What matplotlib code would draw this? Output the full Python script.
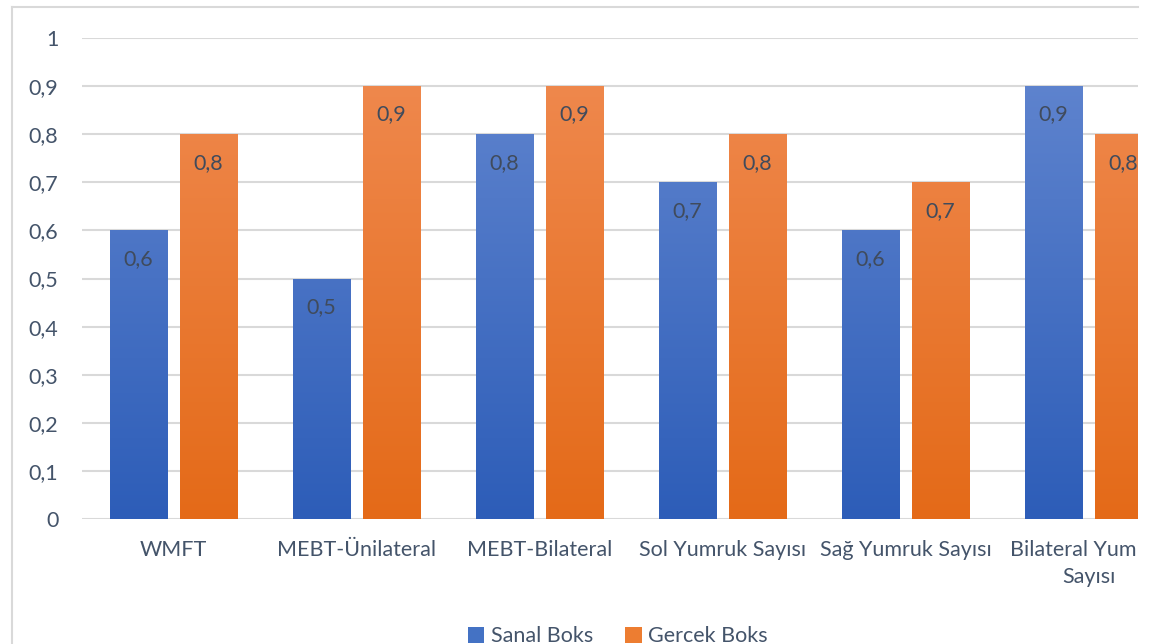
import numpy as np
import matplotlib
matplotlib.use("Agg")
import matplotlib.pyplot as plt
from matplotlib.patches import Rectangle, Patch
from matplotlib.lines import Line2D
from matplotlib.colors import LinearSegmentedColormap

categories = ["WMFT", "MEBT-Ünilateral", "MEBT-Bilateral", "Sol Yumruk Sayısı",
              "Sağ Yumruk Sayısı", "Bilateral Yumruk\nSayısı"]
sanal = [0.6, 0.5, 0.8, 0.7, 0.6, 0.9]
gercek = [0.8, 0.9, 0.9, 0.8, 0.7, 0.8]
series_names = ["Sanal Boks", "Gercek Boks"]
yticks = [0, 0.1, 0.2, 0.3, 0.4, 0.5, 0.6, 0.7, 0.8, 0.9, 1.0]

W, H = 1155, 644
plt.rcParams['font.family'] = ['Lato', 'DejaVu Sans']
text_col = '#44546A'
grid_col = '#D9D9D9'
fs = 15.5

fig = plt.figure(figsize=(W/100, H/100), dpi=100)
left_px, right_px, bot_px, top_px = 82, 1180, 519, 38
ax = fig.add_axes([left_px/W, (H-bot_px)/H, (right_px-left_px)/W, (bot_px-top_px)/H])

n = len(categories)
x = np.arange(n)
bw = 0.315
gap = 0.066
blue_cmap = LinearSegmentedColormap.from_list('b', ['#2D5DB8', '#6387D0'])
orange_cmap = LinearSegmentedColormap.from_list('o', ['#E46A18', '#F08B52'])

def grad_bars(xs, vals, cmap):
    bars = ax.bar(xs, vals, width=bw, color='none', edgecolor='none', zorder=2)
    for b in bars:
        x0, y0 = b.get_x(), b.get_y()
        w, h = b.get_width(), b.get_height()
        grad = np.linspace(0, 1, 256).reshape(-1, 1)
        im = ax.imshow(grad, cmap=cmap, origin='lower', aspect='auto',
                       extent=[x0, x0 + w, 0, 1.0], zorder=2)
        clip = Rectangle((x0, y0), w, h, transform=ax.transData)
        im.set_clip_path(clip)
    return bars

xb = x - (bw + gap) / 2
xo = x + (bw + gap) / 2
grad_bars(xb, sanal, blue_cmap)
grad_bars(xo, gercek, orange_cmap)

for xs, vals in ((xb, sanal), (xo, gercek)):
    for xi, v in zip(xs, vals):
        ax.annotate(f"{v:.1f}".replace('.', ','), (xi, v), xytext=(0, -20.5),
                    textcoords='offset points', ha='center', va='center',
                    fontsize=fs, color='#404B5C', zorder=3)

ax.set_xlim(-0.5, n - 0.5)
ax.set_ylim(0, 1)
ax.set_yticks(yticks)
ax.set_yticklabels([f"{t:g}".replace('.', ',') for t in yticks])
ax.set_xticks(x)
ax.set_xticklabels(categories)
ax.tick_params(axis='y', length=0, pad=17, labelsize=fs, labelcolor=text_col)
ax.tick_params(axis='x', length=0, pad=15, labelsize=fs, labelcolor=text_col)
for lbl in ax.get_xticklabels():
    lbl.set_linespacing(1.45)
ax.grid(axis='y', color=grid_col, linewidth=1.5, zorder=0)
ax.set_axisbelow(True)
for s in ax.spines.values():
    s.set_visible(False)
ax.patch.set_visible(False)

handles = [Patch(facecolor='#4472C4'), Patch(facecolor='#ED7D31')]
fig.legend(handles, series_names, loc='center', bbox_to_anchor=(0.535, 0.012),
           ncol=2, frameon=False, fontsize=fs, handlelength=0.75, handleheight=0.75,
           handletextpad=0.3, columnspacing=1.5, labelcolor=text_col)

# clip region on the right (cropped chart)
fig.patches.append(Rectangle((1138/W, 0), 1, 1, transform=fig.transFigure,
                             facecolor='white', edgecolor='none', zorder=20))
# outer chart border (top and left)
fig.lines.append(Line2D([12/W, 12/W], [0, (H-7)/H], transform=fig.transFigure,
                        color=grid_col, linewidth=1.5, zorder=21))
fig.lines.append(Line2D([12/W, 1138/W], [(H-7)/H, (H-7)/H], transform=fig.transFigure,
                        color=grid_col, linewidth=1.5, zorder=21))

fig.savefig('out.png', dpi=100, facecolor='white')
